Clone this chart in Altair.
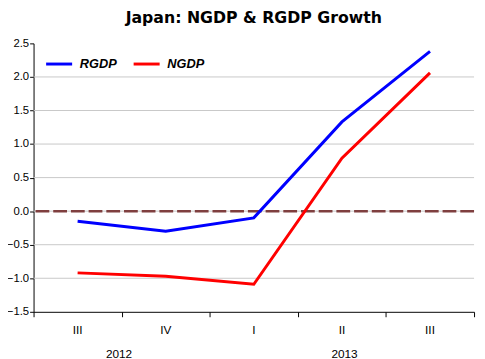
import altair as alt
import pandas as pd

quarters = ["III", "IV", "I", "II", "III"]
years = ["2012", "2013"]
year_pos = [0.97, 3.53]
rgdp = [-0.15, -0.30, -0.10, 1.33, 2.38]
ngdp = [-0.92, -0.97, -1.09, 0.79, 2.06]
grid_vals = [2.0, 1.5, 1.0, 0.5, 0.0, -0.5, -1.0]
y_ticks = [2.5, 2.0, 1.5, 1.0, 0.5, 0.0, -0.5, -1.0, -1.5]
x_ticks = [0, 1, 2, 3, 4, 5]
ref_val = [0.0]

xpos = [i + 0.5 for i in range(len(quarters))]
df = pd.DataFrame(
    {"x": xpos * 2,
     "v": rgdp + ngdp,
     "series": ["RGDP"] * len(rgdp) + ["NGDP"] * len(ngdp)}
)
qdf = pd.DataFrame({"x": xpos, "label": quarters})
ydf = pd.DataFrame({"x": year_pos, "label": years})
gdf = pd.DataFrame({"y": grid_vals})
rdf = pd.DataFrame({"y": ref_val})

W, H = 448, 273
xscale = alt.Scale(domain=[0, 5], nice=False, zero=False)
yscale = alt.Scale(domain=[-1.5, 2.5], nice=False, zero=False)

xaxis = alt.Axis(values=x_ticks, labels=False, title=None, grid=False,
                 domainColor="black", tickColor="black", tickSize=5, domainWidth=1)
yaxis = alt.Axis(values=y_ticks, format=".1f", title=None, grid=False,
                 domainColor="black", tickColor="black", tickSize=4, labelFont="Arial",
                 labelFontSize=11.5, labelColor="black", labelPadding=1,
                 labelOverlap=False, labelFlush=False)

grid = alt.Chart(gdf).mark_rule(color="#c8c8c8", strokeWidth=1).encode(
    y=alt.Y("y:Q", scale=yscale, axis=yaxis)
)

ref = alt.Chart(rdf).mark_rule(color="#7f3f3f", strokeWidth=2.5, strokeDash=[14, 4]).encode(
    y=alt.Y("y:Q", scale=yscale, axis=yaxis)
)

lines = alt.Chart(df).mark_line(strokeWidth=3).encode(
    x=alt.X("x:Q", scale=xscale, axis=xaxis),
    y=alt.Y("v:Q", scale=yscale, axis=yaxis),
    color=alt.Color("series:N",
                    scale=alt.Scale(domain=["RGDP", "NGDP"], range=["#0000ff", "#ff0000"]),
                    legend=alt.Legend(orient="none", legendX=11, legendY=6, direction="horizontal",
                                      title=None, symbolType="stroke", symbolSize=700,
                                      symbolStrokeWidth=3, labelFont="Arial", labelFontSize=13,
                                      labelFontWeight="bold", labelFontStyle="italic",
                                      labelColor="black", columnPadding=10, labelOffset=6)),
    detail="series:N",
)

qtext = alt.Chart(qdf).mark_text(font="Arial", fontSize=12, color="black").encode(
    x=alt.X("x:Q", scale=xscale, axis=xaxis), y=alt.value(H + 19), text="label:N"
)
ytext = alt.Chart(ydf).mark_text(font="Arial", fontSize=12, color="black").encode(
    x=alt.X("x:Q", scale=xscale, axis=xaxis), y=alt.value(H + 43), text="label:N"
)

chart = alt.layer(grid, ref, lines, qtext, ytext).properties(
    width=W, height=H,
    title=alt.TitleParams("Japan: NGDP & RGDP Growth", font="DejaVu Sans", fontSize=16,
                          fontWeight="bold", color="black", anchor="middle", offset=12),
    autosize=alt.AutoSizeParams(type="none"),
    padding={"left": 26, "top": 33, "right": 3, "bottom": 45},
).configure_view(stroke=None)

chart.save("out.html", embed_options={"renderer": "svg", "actions": False})
